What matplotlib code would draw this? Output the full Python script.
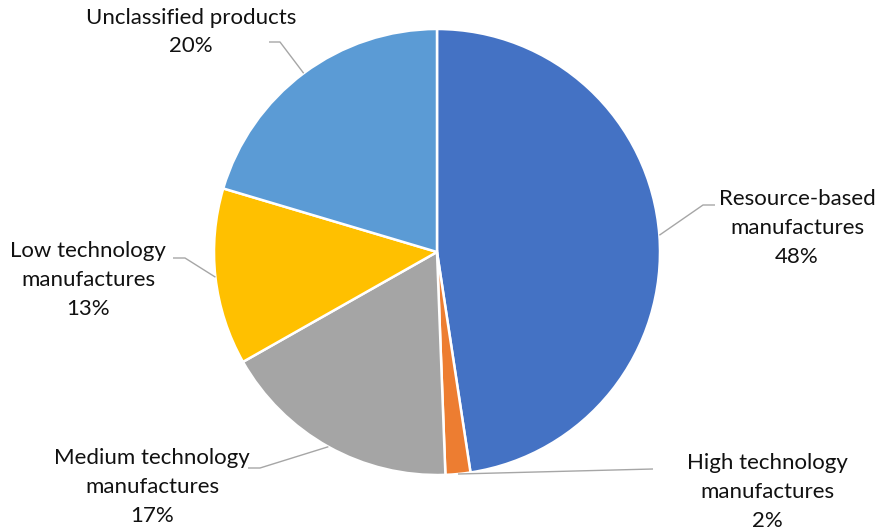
import numpy as np
import matplotlib.pyplot as plt

categories = ["Resource-based\nmanufactures", "High technology\nmanufactures",
              "Medium technology\nmanufactures", "Low technology\nmanufactures",
              "Unclassified products"]
shares = [47.6, 1.8, 17.4, 12.8, 20.4]
colors = ["#4472C4", "#ED7D31", "#A5A5A5", "#FFC000", "#5B9BD5"]

# label placement (pixel coords, y from top): text centre and leader elbow
label_xy = [(797, 228), (767, 492), (152, 487), (88, 280), (191, 32)]
elbows = [[(715, 205), (703, 205)], [(653, 469)], [(248, 468), (260, 468)],
          [(173, 258), (185, 258)], [(269, 42), (280, 42)]]

W, H = 875, 531
fig = plt.figure(figsize=(W / 100, H / 100), dpi=100)
ax = fig.add_axes([0, 0, 1, 1])

cx, cy, r = 437, H - 252, 223
wedges, _ = ax.pie(shares, colors=colors, startangle=90, counterclock=False,
                   center=(cx, cy), radius=r, frame=True,
                   wedgeprops=dict(edgecolor="white", linewidth=1.8))
ax.set_xlim(0, W)
ax.set_ylim(0, H)
ax.set_aspect("equal")
ax.axis("off")

for w, name, val, (tx, ty), elb in zip(wedges, categories, shares, label_xy, elbows):
    mid = np.deg2rad((w.theta1 + w.theta2) / 2)
    ex, ey = cx + r * np.cos(mid), cy + r * np.sin(mid)
    xs = [p[0] for p in elb] + [ex]
    ys = [H - p[1] for p in elb] + [ey]
    ax.plot(xs, ys, color="#A6A6A6", lw=1.0, solid_capstyle="butt")
    ax.text(tx, H - ty, f"{name}\n{val:.0f}%", ha="center", va="center",
            fontsize=16, family="Lato", color="#111111", linespacing=1.55)

fig.savefig("out.png", dpi=100)
